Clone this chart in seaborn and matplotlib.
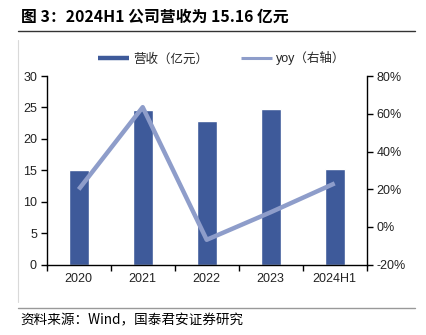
import matplotlib
matplotlib.use("Agg")
import matplotlib.pyplot as plt
from matplotlib.lines import Line2D
import seaborn as sns
import pandas as pd

categories = ["2020", "2021", "2022", "2023", "2024H1"]
revenue = [15.0, 24.55, 22.85, 24.76, 15.16]
yoy = [19.9, 63.5, -6.8, 7.8, 23.1]
left_ticks = [0, 5, 10, 15, 20, 25, 30]
right_ticks = [-20, 0, 20, 40, 60, 80]

bar_color = "#3E5A9A"
line_color = "#8E9DCA"

sns.set_theme(style="white")
plt.rcParams['font.family'] = ['Liberation Sans', 'Noto Sans CJK SC', 'DejaVu Sans']

df = pd.DataFrame({"cat": categories, "rev": revenue, "yoy": yoy})

fig = plt.figure(figsize=(4.26, 3.35), dpi=100)
ax = fig.add_axes([0.1096, 0.2099, 0.7512, 0.5631])

sns.barplot(data=df, x="cat", y="rev", color=bar_color, width=0.31,
            saturation=1, ax=ax)
ax.set_ylim(0, 30)
ax.set_yticks(left_ticks)
ax.set_xlim(-0.5, len(categories) - 0.5)

ax2 = ax.twinx()
sns.lineplot(data=df, x="cat", y="yoy", color=line_color, lw=3.2,
             sort=False, ax=ax2, solid_capstyle='butt')
ax2.set_ylim(-20, 80)
ax2.set_yticks(right_ticks)
ax2.set_yticklabels([f"{t}%" for t in right_ticks])
ax2.set_xlim(-0.5, len(categories) - 0.5)

for a in (ax, ax2):
    a.set_xlabel("")
    a.set_ylabel("")
    a.spines['top'].set_visible(False)
    for s in ('left', 'right', 'bottom'):
        a.spines[s].set_color('black')
        a.spines[s].set_linewidth(1.0)

ax.spines['right'].set_visible(False)
ax2.spines['left'].set_visible(False)
ax2.spines['bottom'].set_visible(False)

# x ticks at category boundaries, labels at centers
ax.set_xticks([i - 0.5 for i in range(len(categories) + 1)])
ax.set_xticklabels([])
ax.set_xticks(range(len(categories)), minor=True)
ax.set_xticklabels(categories, minor=True)
ax.tick_params(axis='x', which='major', direction='out', length=4, width=1,
               color='black', bottom=True)
ax.tick_params(axis='x', which='minor', length=0, labelsize=9, pad=6,
               labelcolor='#222222')
ax.tick_params(axis='y', direction='out', length=4, width=1, color='black',
               left=True, labelsize=9, pad=3, labelcolor='#222222')
ax2.tick_params(axis='y', direction='out', length=4, width=1, color='black',
                right=True, labelsize=9, pad=3, labelcolor='#222222')

handles = [Line2D([0], [0], color=bar_color, lw=3.2, solid_capstyle='butt'),
           Line2D([0], [0], color=line_color, lw=2.2, solid_capstyle='butt')]
fig.legend(handles, ["营收（亿元）", "yoy（右轴）"], loc='center',
           bbox_to_anchor=(0.52, 0.826), ncol=2, frameon=False,
           fontsize=9, handlelength=2.5, handletextpad=0.3, columnspacing=2.6)

# title and decorations
fig.text(0.05, 0.952, "图 3：2024H1 公司营收为 15.16 亿元", fontsize=11.4,
         fontweight='bold', family=['Noto Sans CJK SC', 'DejaVu Sans'],
         va='center', ha='left', color='black')
fig.add_artist(Line2D([0.042, 0.975], [0.908, 0.908], color='#333333', lw=1.0,
                      transform=fig.transFigure))
fig.add_artist(Line2D([0.043, 0.043], [0.10, 0.88], color='#D9D9D9', lw=0.8,
                      transform=fig.transFigure))
fig.add_artist(Line2D([0.042, 0.975], [0.0815, 0.0815], color='#999999', lw=1.0,
                      transform=fig.transFigure))
fig.text(0.047, 0.045, "资料来源：Wind，国泰君安证券研究", fontsize=9.8,
         family=['Noto Sans CJK SC', 'DejaVu Sans'], va='center', ha='left',
         color='black')

fig.savefig("out.png", dpi=100)
